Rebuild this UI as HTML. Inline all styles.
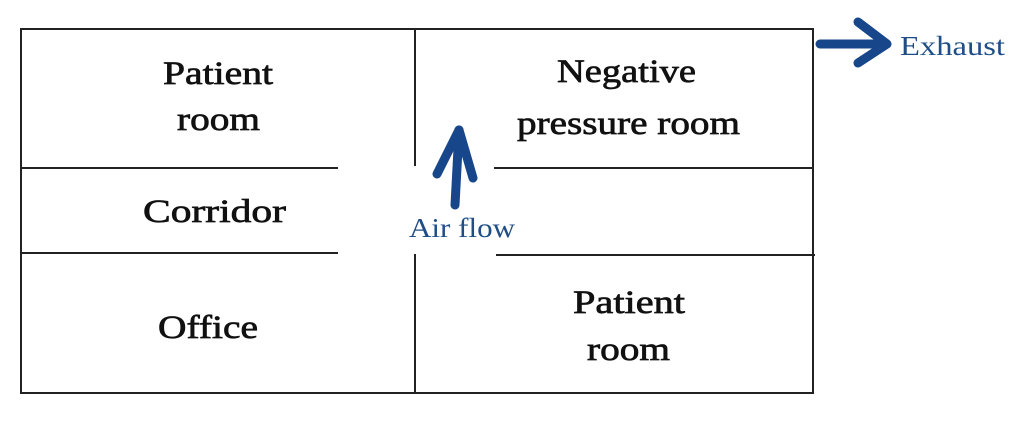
<!DOCTYPE html>
<html><head><style>
body{margin:0;background:#fff;width:1024px;height:422px;overflow:hidden}
svg text{font-family:"Liberation Serif",serif}
</style></head><body>
<svg width="1024" height="422" viewBox="0 0 1024 422">
<g stroke="#222" stroke-width="2" fill="none">
<rect x="21" y="29" width="792" height="364"/>
<line x1="415" y1="29" x2="415" y2="166"/>
<line x1="415" y1="254" x2="415" y2="393"/>
<line x1="21" y1="168" x2="338" y2="168"/>
<line x1="21" y1="253" x2="338" y2="253"/>
<line x1="494" y1="168" x2="813" y2="168"/>
<line x1="496" y1="255" x2="815" y2="255"/>
</g>
<g font-size="33" fill="#111" stroke="#111" stroke-width="0.7" lengthAdjust="spacingAndGlyphs">
<text x="163" y="84" textLength="110" lengthAdjust="spacingAndGlyphs">Patient</text>
<text x="177" y="130" textLength="83" lengthAdjust="spacingAndGlyphs">room</text>
<text x="557" y="82" textLength="139" lengthAdjust="spacingAndGlyphs">Negative</text>
<text x="517" y="134" textLength="223" lengthAdjust="spacingAndGlyphs">pressure room</text>
<text x="143" y="222" textLength="143" lengthAdjust="spacingAndGlyphs">Corridor</text>
<text x="158" y="338" textLength="100" lengthAdjust="spacingAndGlyphs">Office</text>
<text x="573" y="313" textLength="112" lengthAdjust="spacingAndGlyphs">Patient</text>
<text x="587" y="360" textLength="83" lengthAdjust="spacingAndGlyphs">room</text>
</g>
<g stroke="#17468a" stroke-width="9" stroke-linecap="round" stroke-linejoin="round" fill="none">
<line x1="455" y1="205" x2="459" y2="130"/>
<polyline points="437,174 459,130 473,178"/>
<line x1="820" y1="44" x2="886" y2="44"/>
<polyline points="858,22 887,44 858,63"/>
</g>
<text x="409" y="237" font-size="27" fill="#1f4e86" textLength="106" lengthAdjust="spacingAndGlyphs">Air flow</text>
<text x="900" y="55" font-size="27" fill="#1f4e86" textLength="105" lengthAdjust="spacingAndGlyphs">Exhaust</text>
</svg>
</body></html>
